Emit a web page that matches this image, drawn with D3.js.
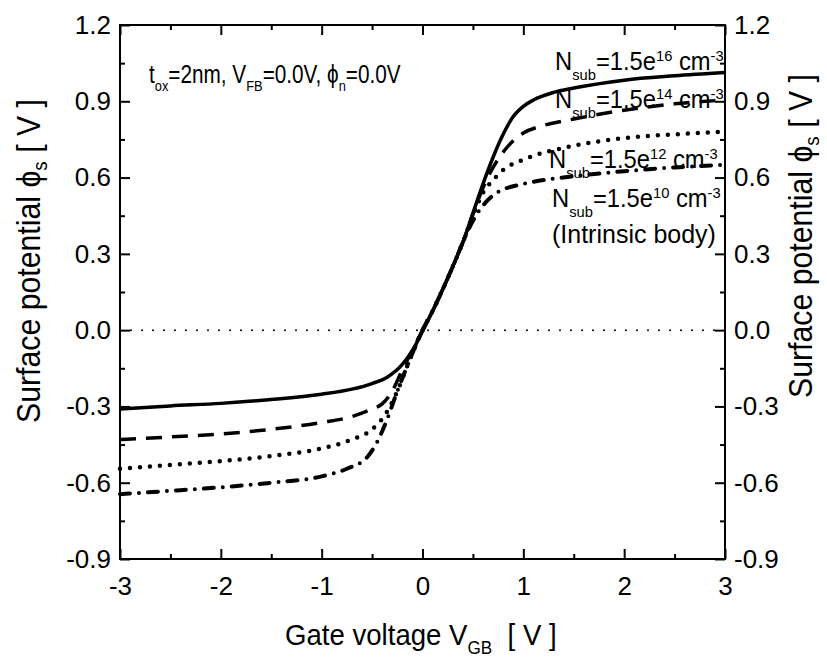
<!DOCTYPE html>
<html>
<head>
<meta charset="utf-8">
<script src="https://cdn.jsdelivr.net/npm/d3@7"></script>
<style>
  body { margin:0; background:#fff; }
  svg text { font-family:"Liberation Sans", Arial, sans-serif; fill:#000; }
</style>
</head>
<body>
<svg id="chart" width="827" height="661"></svg>
<script>
// tick values
var xMajor = [-3, -2, -1, 0, 1, 2, 3];
var yMajor = [-0.9, -0.6, -0.3, 0.0, 0.3, 0.6, 0.9, 1.2];

// surface potential vs gate voltage
var v16   = [-3, -2.5, -2, -1.5, -1, -0.7, -0.5, -0.35, -0.2, -0.1, 0, 0.1, 0.2, 0.3, 0.4, 0.5, 0.6, 0.7, 0.8, 0.9, 1.0, 1.1, 1.3, 1.5, 2.0, 2.5, 3.0];
var phi16 = [-0.31, -0.298, -0.288, -0.273, -0.252, -0.232, -0.21, -0.185, -0.135, -0.08, -0.005, 0.075, 0.16, 0.25, 0.345, 0.46, 0.575, 0.68, 0.77, 0.84, 0.88, 0.905, 0.935, 0.952, 0.983, 1.0, 1.013];

var v14   = [-3, -2.5, -2, -1.5, -1, -0.7, -0.5, -0.4, -0.3, -0.2, -0.1, 0, 0.1, 0.2, 0.3, 0.4, 0.5, 0.6, 0.7, 0.8, 0.9, 1.0, 1.2, 1.5, 2.0, 2.5, 3.0];
var phi14 = [-0.43, -0.42, -0.408, -0.39, -0.363, -0.34, -0.31, -0.29, -0.24, -0.155, -0.08, 0, 0.075, 0.16, 0.25, 0.345, 0.455, 0.56, 0.64, 0.7, 0.745, 0.775, 0.805, 0.83, 0.865, 0.89, 0.905];

var v12   = [-3, -2.5, -2, -1.5, -1, -0.7, -0.5, -0.35, -0.25, -0.15, 0, 0.1, 0.2, 0.3, 0.4, 0.5, 0.6, 0.7, 0.8, 1.0, 1.5, 2.0, 2.5, 3.0];
var phi12 = [-0.545, -0.53, -0.515, -0.495, -0.465, -0.43, -0.39, -0.32, -0.24, -0.14, 0, 0.075, 0.16, 0.25, 0.345, 0.45, 0.54, 0.59, 0.63, 0.67, 0.725, 0.755, 0.77, 0.78];

var v10   = [-3, -2.5, -2, -1.5, -1, -0.75, -0.55, -0.45, -0.35, -0.25, -0.15, 0, 0.1, 0.2, 0.3, 0.4, 0.5, 0.6, 0.7, 0.8, 1.0, 1.5, 2.0, 2.5, 3.0];
var phi10 = [-0.645, -0.632, -0.618, -0.6, -0.575, -0.545, -0.5, -0.44, -0.35, -0.24, -0.14, 0, 0.075, 0.16, 0.25, 0.345, 0.43, 0.49, 0.53, 0.553, 0.575, 0.605, 0.625, 0.64, 0.65];

var series = [
  {v:v16, phi:phi16, dash:null,        cap:"butt",  w:3.5},
  {v:v14, phi:phi14, dash:"16,10",     cap:"butt",  w:3.5},
  {v:v12, phi:phi12, dash:"0,10",      cap:"round", w:4.5},
  {v:v10, phi:phi10, dash:"10,9,0,9",  cap:"round", w:4}
];

var svg = d3.select("#chart");
var m = {l:120, r:725, t:25, b:559};

var x = d3.scaleLinear().domain([-3, 3]).range([m.l, m.r]);
var y = d3.scaleLinear().domain([-0.9, 1.2]).range([m.b, m.t]);

var xMinor = d3.range(-2.5, 3, 1);
var yMinor = d3.range(-0.75, 1.2, 0.3);

// zero reference line
svg.append("line")
  .attr("x1", x(-3)).attr("x2", x(3))
  .attr("y1", y(0)).attr("y2", y(0))
  .attr("stroke", "#000").attr("stroke-width", 2)
  .attr("stroke-linecap", "round").attr("stroke-dasharray", "0,11");

var line = d3.line().curve(d3.curveMonotoneX);

svg.selectAll("path.curve").data(series).enter().append("path")
  .attr("class", "curve")
  .attr("d", function(s) { return line(s.v.map(function(v, i) { return [x(v), y(s.phi[i])]; })); })
  .attr("fill", "none").attr("stroke", "#000")
  .attr("stroke-width", function(s) { return s.w; })
  .attr("stroke-linecap", function(s) { return s.cap; })
  .attr("stroke-dasharray", function(s) { return s.dash; });

// axes: ticks pointing inward on all four sides
function frame(g, axis, tr) {
  g.attr("transform", tr).call(axis);
  g.select(".domain").remove();
  g.selectAll("line").attr("stroke-width", 2);
}

var loc = d3.formatLocale({decimal:".", thousands:",", grouping:[3], currency:["",""], minus:"-"});
var fmtX = loc.format("d");
var fmtY = loc.format(".1f");

var gb = svg.append("g");
frame(gb, d3.axisBottom(x).tickValues(xMajor).tickSizeInner(-10).tickSizeOuter(0).tickPadding(18).tickFormat(fmtX), "translate(0," + m.b + ")");
var gbm = svg.append("g");
frame(gbm, d3.axisBottom(x).tickValues(xMinor).tickSizeInner(-5).tickSizeOuter(0).tickFormat(""), "translate(0," + m.b + ")");
var gt = svg.append("g");
frame(gt, d3.axisTop(x).tickValues(xMajor).tickSizeInner(-10).tickSizeOuter(0).tickFormat(""), "translate(0," + m.t + ")");
var gtm = svg.append("g");
frame(gtm, d3.axisTop(x).tickValues(xMinor).tickSizeInner(-5).tickSizeOuter(0).tickFormat(""), "translate(0," + m.t + ")");

var gl = svg.append("g");
frame(gl, d3.axisLeft(y).tickValues(yMajor).tickSizeInner(-10).tickSizeOuter(0).tickPadding(9).tickFormat(fmtY), "translate(" + m.l + ",0)");
var glm = svg.append("g");
frame(glm, d3.axisLeft(y).tickValues(yMinor).tickSizeInner(-5).tickSizeOuter(0).tickFormat(""), "translate(" + m.l + ",0)");
var gr = svg.append("g");
frame(gr, d3.axisRight(y).tickValues(yMajor).tickSizeInner(-10).tickSizeOuter(0).tickPadding(9).tickFormat(fmtY), "translate(" + m.r + ",0)");
var grm = svg.append("g");
frame(grm, d3.axisRight(y).tickValues(yMinor).tickSizeInner(-5).tickSizeOuter(0).tickFormat(""), "translate(" + m.r + ",0)");

svg.selectAll(".tick text").attr("font-size", 26).attr("fill", "#000")
  .style("font-family", "'Liberation Sans', Arial, sans-serif");

// box
svg.append("rect")
  .attr("x", m.l).attr("y", m.t).attr("width", m.r - m.l).attr("height", m.b - m.t)
  .attr("fill", "none").attr("stroke", "#000").attr("stroke-width", 2);

// text with sub/superscripts; o = {size, sx (horizontal squeeze), rot, sub, sup}
function rich(px, py, o, parts) {
  var tr = "translate(" + px + "," + py + ")" + (o.rot ? " rotate(" + o.rot + ")" : "") + " scale(" + (o.sx || 1) + ",1)";
  var t = svg.append("text").attr("transform", tr).attr("font-size", o.size).attr("xml:space", "preserve");
  var cur = 0;
  parts.forEach(function(p) {
    var dy = 0, fs = o.size;
    if (p[1] === "sub") { fs = o.size * 0.62; dy = o.size * (o.sub || 0.33); }
    if (p[1] === "sup") { fs = o.size * 0.62; dy = -o.size * (o.sup || 0.42); }
    t.append("tspan").attr("dy", dy - cur).attr("font-size", fs).text(p[0]);
    cur = dy;
  });
  return t;
}

// axis titles
rich(285, 645, {size:30, sx:0.92, sub:0.3}, [["Gate voltage V", 0], ["GB", "sub"], ["  [ V ]", 0]]);
var yTitle = [["Surface potential \u03d5", 0], ["s", "sub"], [" [ V ]", 0]];
rich(40, 423, {size:34, sx:0.89, rot:-90, sub:0.2}, yTitle);
rich(812, 398, {size:34, sx:0.89, rot:-90, sub:0.2}, yTitle);

// annotations
rich(149, 83, {size:25, sx:0.83, sub:0.33}, [["t", 0], ["ox", "sub"], ["=2nm, V", 0], ["FB", "sub"], ["=0.0V, \u03d5", 0], ["n", "sub"], ["=0.0V", 0]]);

var labels = [
  {x:555, y:70,  exp:"16"},
  {x:555, y:108, exp:"14"},
  {x:549, y:168, exp:"12"},
  {x:552, y:207, exp:"10"}
];
labels.forEach(function(l) {
  rich(l.x, l.y, {size:25, sx:0.95, sub:0.4, sup:0.38}, [["N", 0], ["sub", "sub"], ["=1.5e", 0], [l.exp, "sup"], [" cm", 0], ["-3", "sup"]]);
});
rich(552, 243, {size:25, sx:1.0}, [["(Intrinsic body)", 0]]);
</script>
</body>
</html>
